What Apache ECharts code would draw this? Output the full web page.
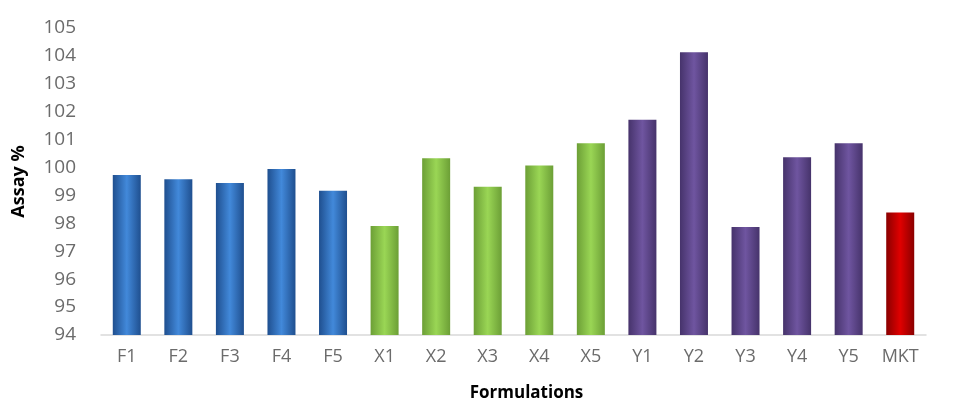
<!DOCTYPE html>
<html>
<head>
<meta charset="utf-8">
<script src="https://cdn.jsdelivr.net/npm/echarts@6/dist/echarts.min.js"></script>
<style>html,body{margin:0;padding:0;background:#fff}#c{width:979px;height:403px}</style>
</head>
<body>
<div id="c"></div>
<script>
const categories = ['F1','F2','F3','F4','F5','X1','X2','X3','X4','X5','Y1','Y2','Y3','Y4','Y5','MKT'];
const assayValues = [99.73, 99.58, 99.45, 99.95, 99.17, 97.91, 100.33, 99.31, 100.07, 100.87, 101.71, 104.13, 97.87, 100.37, 100.87, 98.39];
const yTicks = [94,95,96,97,98,99,100,101,102,103,104,105];

const palette = {
  F: ['#1f4f8f', '#4289da'],
  X: ['#6c9f36', '#9ad655'],
  Y: ['#46336b', '#6f55a0'],
  M: ['#8a0000', '#e00000']
};
function grad(cat) {
  const p = palette[cat[0]];
  return new echarts.graphic.LinearGradient(0, 0, 1, 0, [
    {offset: 0, color: p[0]},
    {offset: 0.5, color: p[1]},
    {offset: 1, color: p[0]}
  ]);
}

const chart = echarts.init(document.getElementById('c'));
chart.setOption({
  animation: false,
  grid: {left: 101, right: 53, top: 28, bottom: 68, outerBoundsMode: 'none', containLabel: false},
  xAxis: {
    type: 'category',
    data: categories,
    axisLine: {lineStyle: {color: '#d9d9d9', width: 1.5}},
    axisTick: {show: false},
    axisLabel: {color: '#6b6b6b', fontSize: 18, fontFamily: 'Open Sans', margin: 13},
    name: 'Formulations',
    nameLocation: 'middle',
    nameGap: 50,
    nameTextStyle: {color: '#000', fontSize: 17, fontWeight: 'bold', fontFamily: 'Open Sans', padding: [0, 0, 0, 26]}
  },
  yAxis: {
    type: 'value',
    min: yTicks[0],
    max: yTicks[yTicks.length - 1],
    interval: 1,
    splitLine: {show: false},
    axisLine: {show: false},
    axisTick: {show: false},
    axisLabel: {color: '#6b6b6b', fontSize: 19, fontFamily: 'Open Sans', margin: 25},
    name: 'Assay %',
    nameLocation: 'middle',
    nameGap: 73,
    nameTextStyle: {color: '#000', fontSize: 18, fontWeight: 'bold', fontFamily: 'Open Sans'}
  },
  series: [{
    type: 'bar',
    barWidth: 28,
    data: assayValues.map((v, i) => ({value: v, itemStyle: {color: grad(categories[i])}}))
  }]
});
</script>
</body>
</html>
